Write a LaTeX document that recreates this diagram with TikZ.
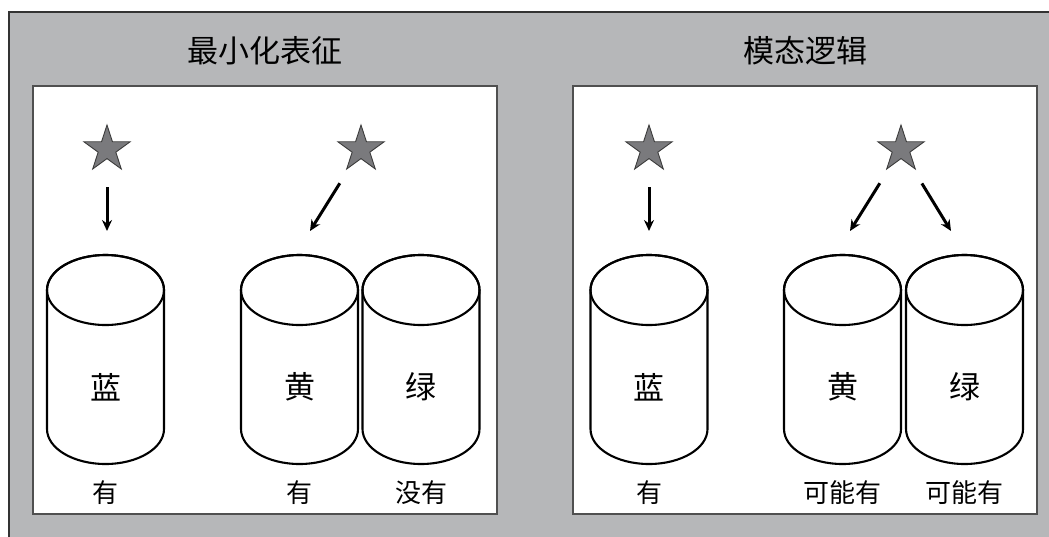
\documentclass[tikz,border=0pt]{standalone}
\usepackage{fontspec}
\setmainfont{Noto Sans CJK SC}
\usetikzlibrary{shapes.geometric,arrows.meta}
\definecolor{bggray}{RGB}{182,183,185}
\definecolor{starfill}{RGB}{122,122,125}
\definecolor{stardraw}{RGB}{60,60,60}
\definecolor{panelline}{RGB}{80,80,80}
\tikzset{
  panel/.style={fill=white,draw=panelline,line width=1.3pt},
  cylline/.style={draw=black,line width=2.1pt,fill=white},
  starnode/.style={star,star points=5,star point ratio=2.618,minimum size=48.6pt,inner sep=0pt,fill=starfill,draw=stardraw,line width=0.9pt},
  arr/.style={line width=3pt,-{Stealth[length=11pt,width=10pt]}},
  title/.style={font=\fontsize{31}{31}\selectfont},
  inlbl/.style={font=\fontsize{31}{31}\selectfont},
  botlbl/.style={font=\fontsize{26}{26}\selectfont},
}
\newcommand\drawcyl[1]{%
  \path[cylline] (#1-58.5,290) -- (#1-58.5,429)
    arc[start angle=180,end angle=0,x radius=58.5,y radius=35]
    -- (#1+58.5,290)
    arc[start angle=0,end angle=-180,x radius=58.5,y radius=35] -- cycle;
  \draw[line width=2.1pt] (#1,290) ellipse[x radius=58.5,y radius=35];
}
\begin{document}
\begin{tikzpicture}[x=1pt,y=-1pt]
\useasboundingbox (0,0) rectangle (1049,536);
\clip (0,0) rectangle (1049,536);
\fill[white] (0,0) rectangle (1049,536);
\path[fill=bggray,draw=black!80,line width=1.2pt] (9,12) rectangle (1060,550);
% panels
\path[panel] (33,86) rectangle (497,514);
\path[panel] (573,86) rectangle (1037,514);
% titles
\node[title] (t1) at (265,51) {最小化表征};
\node[title] (t2) at (805,51) {模态逻辑};
% cylinders
\drawcyl{105.5}
\drawcyl{299.5}
\drawcyl{421}
\drawcyl{649}
\drawcyl{842.5}
\drawcyl{964.5}
% cylinder labels
\node[inlbl] (l1) at (105.5,387) {蓝};
\node[inlbl] (l2) at (299.5,387) {黄};
\node[inlbl] (l3) at (421,387) {绿};
\node[inlbl] (r1) at (649,387) {蓝};
\node[inlbl] (r2) at (842.5,387) {黄};
\node[inlbl] (r3) at (964.5,387) {绿};
% bottom labels
\node[botlbl] (bl1) at (105.5,493) {有};
\node[botlbl] (bl2) at (299.5,493) {有};
\node[botlbl] (bl3) at (421,493) {没有};
\node[botlbl] (br1) at (649,493) {有};
\node[botlbl] (br2) at (842.5,493) {可能有};
\node[botlbl] (br3) at (964.5,493) {可能有};
% stars
\node[starnode] (s1) at (107,149.3) {};
\node[starnode] (s2) at (361,149.3) {};
\node[starnode] (s3) at (649,149.3) {};
\node[starnode] (s4) at (901,149.3) {};
% arrow ends
\coordinate (e1) at (107,231);
\coordinate (e2) at (310,231);
\coordinate (e3) at (649,231);
\coordinate (e4) at (850,231);
\coordinate (e5) at (951,231);
\draw[arr,shorten <=38pt] (s1.center) -- (e1);
\draw[arr,shorten <=40pt] (s2.center) -- (e2);
\draw[arr,shorten <=38pt] (s3.center) -- (e3);
\draw[arr,shorten <=40pt] (s4.center) -- (e4);
\draw[arr,shorten <=40pt] (s4.center) -- (e5);
\end{tikzpicture}
\end{document}
